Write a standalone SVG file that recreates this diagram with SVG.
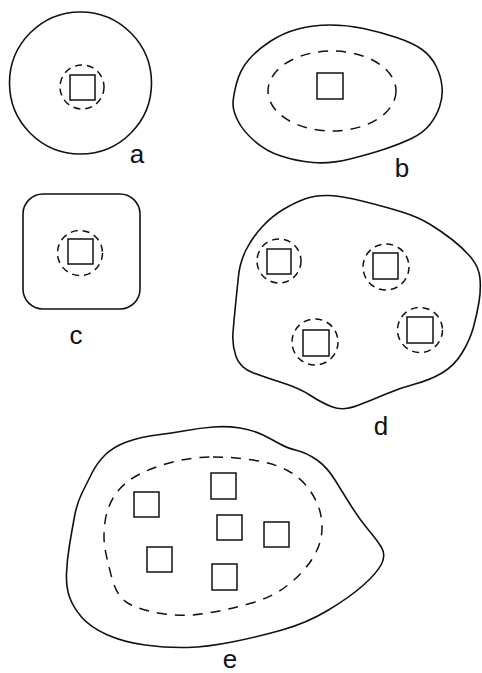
<svg xmlns="http://www.w3.org/2000/svg" width="482" height="673" viewBox="0 0 482 673">
<style>
.o{fill:none;stroke:#111;stroke-width:1.6;stroke-linejoin:round}
.sq{fill:none;stroke:#111;stroke-width:1.5}
.ds{fill:none;stroke:#111;stroke-width:1.5;stroke-dasharray:7 5}
.dl{fill:none;stroke:#111;stroke-width:1.5;stroke-dasharray:10 8}
.lb{font-family:"Liberation Sans",Arial,sans-serif;font-size:26px;fill:#111;text-anchor:middle}
</style>
<rect width="482" height="673" fill="#fff"/>
<g id="fig-a">
<circle cx="80.5" cy="83" r="71" class="o" stroke-width="2.2"/>
<circle cx="82" cy="87" r="22" class="ds"/>
<rect x="70" y="75" width="25" height="25" class="sq"/>
<text x="137" y="163" class="lb">a</text>
</g>
<g id="fig-b">
<path class="o" d="M 236.5 83.5 Q 240 70 248.5 60 T 270 41.5 T 298 29 T 330 25 T 363.5 28.5 T 396.5 37.5 T 422 49.5 T 436 66 T 442 86.5 T 439.5 107 T 429.5 125 T 411.5 138.5 T 385 149 T 350 159 T 313 162.5 T 281 156 T 254.5 141 T 238 121 T 233 104 T 236.5 83.5 Z"/>
<ellipse cx="332" cy="91" rx="64" ry="40" class="dl"/>
<rect x="317" y="73" width="26" height="26" class="sq"/>
<text x="402" y="177" class="lb">b</text>
</g>
<g id="fig-c">
<rect x="23" y="194" width="117" height="115" rx="20" class="o"/>
<circle cx="80" cy="253" r="22.5" class="ds"/>
<rect x="68" y="239" width="25" height="25" class="sq"/>
<text x="76" y="344" class="lb">c</text>
</g>
<g id="fig-d">
<path class="o" d="M 233 332.5 Q 234 320 235.5 305 T 238.5 276 T 246 250 T 262 227 T 284 209 T 306 198.5 T 329 195.5 T 364 201.5 T 402 212 T 429.5 224 T 452 239.5 T 471 257.5 T 480 278.5 T 479 302 T 473.5 327 T 462 353 T 442 373 T 415 384 T 386 394 T 357.5 405.5 T 332.5 407 T 310.5 395.5 T 283 383 T 253.5 373 T 236 356.5 T 233 332.5 Z"/>
<circle cx="279" cy="261" r="22" class="ds"/>
<rect x="267" y="249" width="24" height="25" class="sq"/>
<circle cx="386" cy="267" r="23" class="ds"/>
<rect x="373" y="253" width="25" height="26" class="sq"/>
<circle cx="315" cy="342" r="23" class="ds"/>
<rect x="303" y="330" width="26" height="26" class="sq"/>
<circle cx="420" cy="330" r="22.5" class="ds"/>
<rect x="407" y="317" width="26" height="26" class="sq"/>
<text x="381" y="435" class="lb">d</text>
</g>
<g id="fig-e">
<path class="o" d="M 186.5 430.5 Q 200 428 213.5 427 T 240 428 T 263 435 T 280 444 T 297 450.5 T 317 460 T 335 480 T 351.5 506.5 T 368.5 530 T 381.5 547.5 T 381.5 564 T 363.5 585 T 328.5 610 T 282 630 T 232 642 T 187 647.5 T 145 645 T 106.5 634.5 T 81.5 617 T 69.5 597 T 66.5 573.5 T 69.5 545 T 74.5 516.5 T 82 493 T 92 473 T 105 455 T 126.5 442 T 156.5 435 T 186.5 430.5 Z"/>
<path class="dl" d="M 213 457 Q 233 457 253 460 T 286.5 470 T 308.5 488.5 T 320 511.5 T 321.5 535 T 311.5 560 T 288 585 T 250 603.5 T 205 613.5 T 161.5 613.5 T 128.5 603.5 T 112 578.5 T 105 548.5 T 105 522 T 115 495 T 138 475 T 173 462 T 213 457 Z"/>
<rect x="134" y="492" width="25" height="25" class="sq"/>
<rect x="211" y="473" width="25" height="26" class="sq"/>
<rect x="217" y="515" width="25" height="25" class="sq"/>
<rect x="264" y="522" width="25" height="25" class="sq"/>
<rect x="147" y="547" width="25" height="25" class="sq"/>
<rect x="212" y="564" width="25" height="26" class="sq"/>
<text x="230" y="668" class="lb">e</text>
</g>
<g id="connectors"/>
</svg>
